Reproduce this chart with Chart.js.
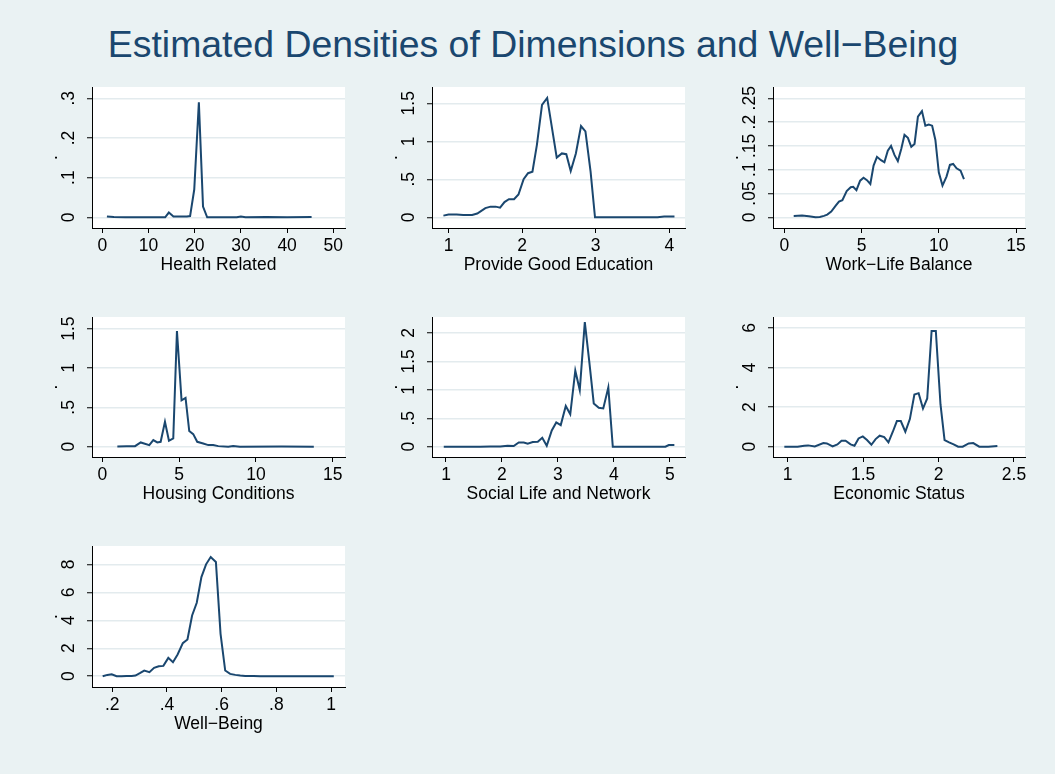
<!DOCTYPE html>
<html>
<head>
<meta charset="utf-8">
<script src="https://cdn.jsdelivr.net/npm/chart.js@4.4.0/dist/chart.umd.min.js"></script>
<style>
html, body { margin: 0; padding: 0; background: #ffffff; }
#page { position: relative; width: 1055px; height: 774px; background: #eaf2f3; overflow: hidden; }
#title { position: absolute; left: 0; width: 1066px; top: 22px; text-align: center;
  font-family: "Liberation Sans", Arial, sans-serif; font-size: 37.4px; line-height: 44px; color: #1a476f; }
canvas { position: absolute; }
</style>
</head>
<body>
<div id="page">
  <div id="title">Estimated Densities of Dimensions and Well−Being</div>
  <canvas id="c1"></canvas>
  <canvas id="c2"></canvas>
  <canvas id="c3"></canvas>
  <canvas id="c4"></canvas>
  <canvas id="c5"></canvas>
  <canvas id="c6"></canvas>
  <canvas id="c7"></canvas>
</div>
<script>
// density estimates
var healthX = [1, 2.5, 5, 10, 13.6, 14.4, 15.4, 18.3, 19.0, 19.9, 20.9, 21.8, 22.7, 25, 29.1, 30, 31, 35.5, 40, 45.3];
var healthY = [0.002, 0.001, 0, 0, 0, 0.012, 0.002, 0.002, 0.003, 0.07, 0.29, 0.027, 0, 0, 0, 0.002, 0, 0.001, 0, 0.001];

var eduX = [0.93, 1.0, 1.11, 1.2, 1.32, 1.39, 1.43, 1.5, 1.57, 1.64, 1.7, 1.76, 1.82, 1.89, 1.95, 2.02, 2.08, 2.14, 2.2, 2.27, 2.34, 2.47, 2.54, 2.6, 2.66, 2.73, 2.8, 2.86, 2.93, 2.99, 3.5, 3.84, 3.93, 4.07];
var eduY = [0.022, 0.035, 0.035, 0.03, 0.03, 0.05, 0.075, 0.12, 0.14, 0.14, 0.127, 0.2, 0.237, 0.237, 0.3, 0.5, 0.58, 0.6, 0.95, 1.48, 1.57, 0.785, 0.84, 0.83, 0.61, 0.84, 1.2, 1.13, 0.6, 0, 0, 0, 0.009, 0.009];

var workX = [0.61, 1.15, 1.59, 2.02, 2.3, 2.57, 2.78, 3.04, 3.33, 3.54, 3.76, 4.04, 4.3, 4.46, 4.67, 4.91, 5.13, 5.35, 5.57, 5.78, 6.0, 6.26, 6.48, 6.7, 6.91, 7.13, 7.35, 7.57, 7.78, 8.0, 8.22, 8.43, 8.65, 8.91, 9.13, 9.35, 9.57, 9.78, 10.0, 10.24, 10.5, 10.72, 10.93, 11.15, 11.41, 11.63];
var workY = [0.0028, 0.0035, 0.002, 0, 0.0007, 0.003, 0.0056, 0.012, 0.0245, 0.033, 0.036, 0.055, 0.063, 0.064, 0.057, 0.077, 0.083, 0.078, 0.07, 0.1085, 0.127, 0.12, 0.1155, 0.14, 0.15, 0.131, 0.118, 0.1435, 0.173, 0.167, 0.148, 0.154, 0.2115, 0.223, 0.1925, 0.195, 0.1925, 0.1625, 0.0945, 0.0665, 0.0855, 0.11, 0.112, 0.103, 0.098, 0.08];

var houseX = [0.98, 1.58, 2.13, 2.5, 3.06, 3.32, 3.58, 3.8, 4.08, 4.34, 4.62, 4.86, 5.16, 5.42, 5.66, 5.92, 6.18, 6.57, 6.9, 7.22, 7.55, 8.2, 8.52, 8.96, 11.67, 13.77];
var houseY = [0.004, 0.008, 0.008, 0.055, 0.021, 0.085, 0.055, 0.063, 0.317, 0.076, 0.106, 1.47, 0.59, 0.62, 0.2, 0.16, 0.063, 0.042, 0.021, 0.021, 0.008, 0, 0.008, 0, 0.004, 0];

var socX = [0.96, 1.61, 1.79, 1.97, 2.1, 2.21, 2.3, 2.39, 2.46, 2.55, 2.64, 2.72, 2.8, 2.89, 2.97, 3.05, 3.14, 3.22, 3.31, 3.39, 3.48, 3.56, 3.64, 3.73, 3.81, 3.9, 3.98, 4.92, 4.98, 5.08];
var socY = [0, 0, 0.006, 0.006, 0.018, 0.012, 0.076, 0.076, 0.053, 0.082, 0.088, 0.158, 0.018, 0.287, 0.428, 0.38, 0.715, 0.57, 1.337, 0.997, 2.19, 1.496, 0.762, 0.686, 0.674, 1.044, 0, 0, 0.03, 0.03];

var econX = [0.978, 1.02, 1.066, 1.11, 1.136, 1.18, 1.237, 1.26, 1.298, 1.33, 1.357, 1.384, 1.417, 1.443, 1.47, 1.498, 1.526, 1.555, 1.583, 1.61, 1.64, 1.668, 1.697, 1.724, 1.75, 1.78, 1.81, 1.84, 1.868, 1.897, 1.925, 1.954, 1.982, 2.013, 2.04, 2.07, 2.1, 2.13, 2.16, 2.2, 2.23, 2.27, 2.33, 2.39];
var econY = [0, 0, 0, 0.05, 0.067, 0.017, 0.185, 0.168, 0.017, 0.118, 0.3, 0.3, 0.118, 0.05, 0.42, 0.52, 0.336, 0.1, 0.386, 0.555, 0.487, 0.218, 0.756, 1.294, 1.294, 0.756, 1.395, 2.64, 2.706, 1.93, 2.437, 5.85, 5.85, 2.134, 0.336, 0.218, 0.118, 0, 0, 0.168, 0.185, 0, 0, 0.034];

var wellX = [0.165, 0.182, 0.198, 0.216, 0.234, 0.252, 0.271, 0.285, 0.301, 0.317, 0.336, 0.353, 0.37, 0.387, 0.405, 0.422, 0.439, 0.458, 0.475, 0.492, 0.509, 0.526, 0.543, 0.56, 0.579, 0.596, 0.613, 0.631, 0.65, 0.668, 0.686, 0.717, 0.741, 1.01];
var wellY = [0, 0.096, 0.143, 0, 0, 0.024, 0.024, 0.048, 0.215, 0.406, 0.287, 0.597, 0.716, 0.74, 1.313, 1.003, 1.552, 2.364, 2.627, 4.346, 5.254, 7.09, 8.0, 8.525, 8.167, 3.03, 0.406, 0.167, 0.096, 0.048, 0.024, 0.024, 0, 0];

// tick values and labels
var healthXTicks = [0, 10, 20, 30, 40, 50];
var healthXLabels = ['0', '10', '20', '30', '40', '50'];
var healthYTicks = [0, 0.1, 0.2, 0.3];
var healthYLabels = ['0', '.1', '.2', '.3'];

var eduXTicks = [1, 2, 3, 4];
var eduXLabels = ['1', '2', '3', '4'];
var eduYTicks = [0, 0.5, 1, 1.5];
var eduYLabels = ['0', '.5', '1', '1.5'];

var workXTicks = [0, 5, 10, 15];
var workXLabels = ['0', '5', '10', '15'];
var workYTicks = [0, 0.05, 0.1, 0.15, 0.2, 0.25];
var workYLabels = ['0', '.05', '.1', '.15', '.2', '.25'];

var houseXTicks = [0, 5, 10, 15];
var houseXLabels = ['0', '5', '10', '15'];
var houseYTicks = [0, 0.5, 1, 1.5];
var houseYLabels = ['0', '.5', '1', '1.5'];

var socXTicks = [1, 2, 3, 4, 5];
var socXLabels = ['1', '2', '3', '4', '5'];
var socYTicks = [0, 0.5, 1, 1.5, 2];
var socYLabels = ['0', '.5', '1', '1.5', '2'];

var econXTicks = [1, 1.5, 2, 2.5];
var econXLabels = ['1', '1.5', '2', '2.5'];
var econYTicks = [0, 2, 4, 6];
var econYLabels = ['0', '2', '4', '6'];

var wellXTicks = [0.2, 0.4, 0.6, 0.8, 1];
var wellXLabels = ['.2', '.4', '.6', '.8', '1'];
var wellYTicks = [0, 2, 4, 6, 8];
var wellYLabels = ['0', '2', '4', '6', '8'];

var FAMILY = '"Liberation Sans", Arial, sans-serif';
var FSIZE = 17.5;
var LINE = '#1a476f';
var YW = 50, TOPPAD = 14, XH = 56, RPAD = 12;

var mctx = document.createElement('canvas').getContext('2d');
function textW(s) {
  mctx.font = FSIZE + 'px ' + FAMILY;
  return mctx.measureText(s).width;
}

var plotBg = {
  id: 'plotBg',
  beforeDraw: function(chart) {
    var a = chart.chartArea, ctx = chart.ctx;
    ctx.save();
    ctx.fillStyle = '#ffffff';
    ctx.fillRect(a.left, a.top, a.right - a.left, a.bottom - a.top);
    ctx.restore();
  }
};

// plot rect = [left, top, right, bottom] of the white plot area
var panels = [
  { id: 'c1', label: 'Health Related', xs: healthX, ys: healthY, xt: healthXTicks, xl: healthXLabels, yt: healthYTicks, yl: healthYLabels,
    plot: [92, 87, 345, 228], xr: [-2.23, 52.53], yr: [-0.027, 0.3285] },
  { id: 'c2', label: 'Provide Good Education', xs: eduX, ys: eduY, xt: eduXTicks, xl: eduXLabels, yt: eduYTicks, yl: eduYLabels,
    plot: [432, 87, 685, 228], xr: [0.775, 4.213], yr: [-0.141, 1.714] },
  { id: 'c3', label: 'Work−Life Balance', xs: workX, ys: workY, xt: workXTicks, xl: workXLabels, yt: workYTicks, yl: workYLabels,
    plot: [773, 87, 1025, 228], xr: [-0.73, 15.58], yr: [-0.0225, 0.2737] },
  { id: 'c4', label: 'Housing Conditions', xs: houseX, ys: houseY, xt: houseXTicks, xl: houseXLabels, yt: houseYTicks, yl: houseYLabels,
    plot: [92, 317, 345, 457], xr: [-0.67, 15.8], yr: [-0.13, 1.647] },
  { id: 'c5', label: 'Social Life and Network', xs: socX, ys: socY, xt: socXTicks, xl: socXLabels, yt: socYTicks, yl: socYLabels,
    plot: [432, 317, 685, 457], xr: [0.75, 5.27], yr: [-0.18, 2.28] },
  { id: 'c6', label: 'Economic Status', xs: econX, ys: econY, xt: econXTicks, xl: econXLabels, yt: econYTicks, yl: econYLabels,
    plot: [773, 317, 1025, 457], xr: [0.903, 2.573], yr: [-0.52, 6.555] },
  { id: 'c7', label: 'Well−Being', xs: wellX, ys: wellY, xt: wellXTicks, xl: wellXLabels, yt: wellYTicks, yl: wellYLabels,
    plot: [92, 546, 345, 687], xr: [0.126, 1.051], yr: [-0.77, 9.31] }
];

function makePanel(p) {
  var cv = document.getElementById(p.id);
  var l = p.plot[0], t = p.plot[1], r = p.plot[2], b = p.plot[3];
  var w = (r - l) + YW + RPAD, h = (b - t) + TOPPAD + XH;
  cv.width = w; cv.height = h;
  cv.style.left = (l - YW) + 'px';
  cv.style.top = (t - TOPPAD) + 'px';
  cv.style.width = w + 'px';
  cv.style.height = h + 'px';
  var widest = Math.max.apply(null, p.yl.map(textW));
  var font = { family: FAMILY, size: FSIZE };

  return new Chart(cv, {
    type: 'line',
    data: {
      datasets: [{
        data: p.xs.map(function(x, i) { return { x: x, y: p.ys[i] }; }),
        borderColor: LINE,
        borderWidth: 2,
        pointRadius: 0,
        tension: 0,
        fill: false
      }]
    },
    options: {
      responsive: false,
      animation: false,
      layout: { padding: { left: 0, right: RPAD, top: TOPPAD, bottom: 0 } },
      plugins: { legend: { display: false }, tooltip: { enabled: false } },
      scales: {
        x: {
          type: 'linear',
          min: p.xr[0], max: p.xr[1],
          afterBuildTicks: function(s) { s.ticks = p.xt.map(function(v) { return { value: v }; }); },
          afterFit: function(s) { s.height = XH; s.paddingLeft = 0; s.paddingRight = 0; },
          ticks: {
            autoSkip: false, maxRotation: 0, padding: 2.5, color: '#000', font: font,
            callback: function(v, i) { return p.xl[i]; }
          },
          grid: { drawOnChartArea: false, drawTicks: true, tickLength: 5, tickColor: '#000', tickWidth: 1 },
          border: { display: true, color: '#000', width: 1 },
          title: { display: true, text: p.label, color: '#000', font: font, padding: { top: 0, bottom: 8 } }
        },
        y: {
          type: 'linear',
          min: p.yr[0], max: p.yr[1],
          afterBuildTicks: function(s) { s.ticks = p.yt.map(function(v) { return { value: v }; }); },
          afterFit: function(s) { s.width = YW; s.paddingTop = 0; s.paddingBottom = 0; },
          ticks: {
            autoSkip: false, minRotation: 90, maxRotation: 90, crossAlign: 'center',
            padding: 22.7 - 5 - widest / 2, color: '#000', font: font,
            callback: function(v, i) { return p.yl[i]; }
          },
          grid: { drawOnChartArea: true, color: '#e3ebee', lineWidth: 1.5, drawTicks: true, tickLength: 5, tickColor: '#000', tickWidth: 1 },
          border: { display: true, color: '#000', width: 1 },
          title: { display: true, text: '.', color: '#000', font: font, padding: { top: 0, bottom: 0 } }
        }
      }
    },
    plugins: [plotBg]
  });
}

panels.forEach(makePanel);
</script>
</body>
</html>
